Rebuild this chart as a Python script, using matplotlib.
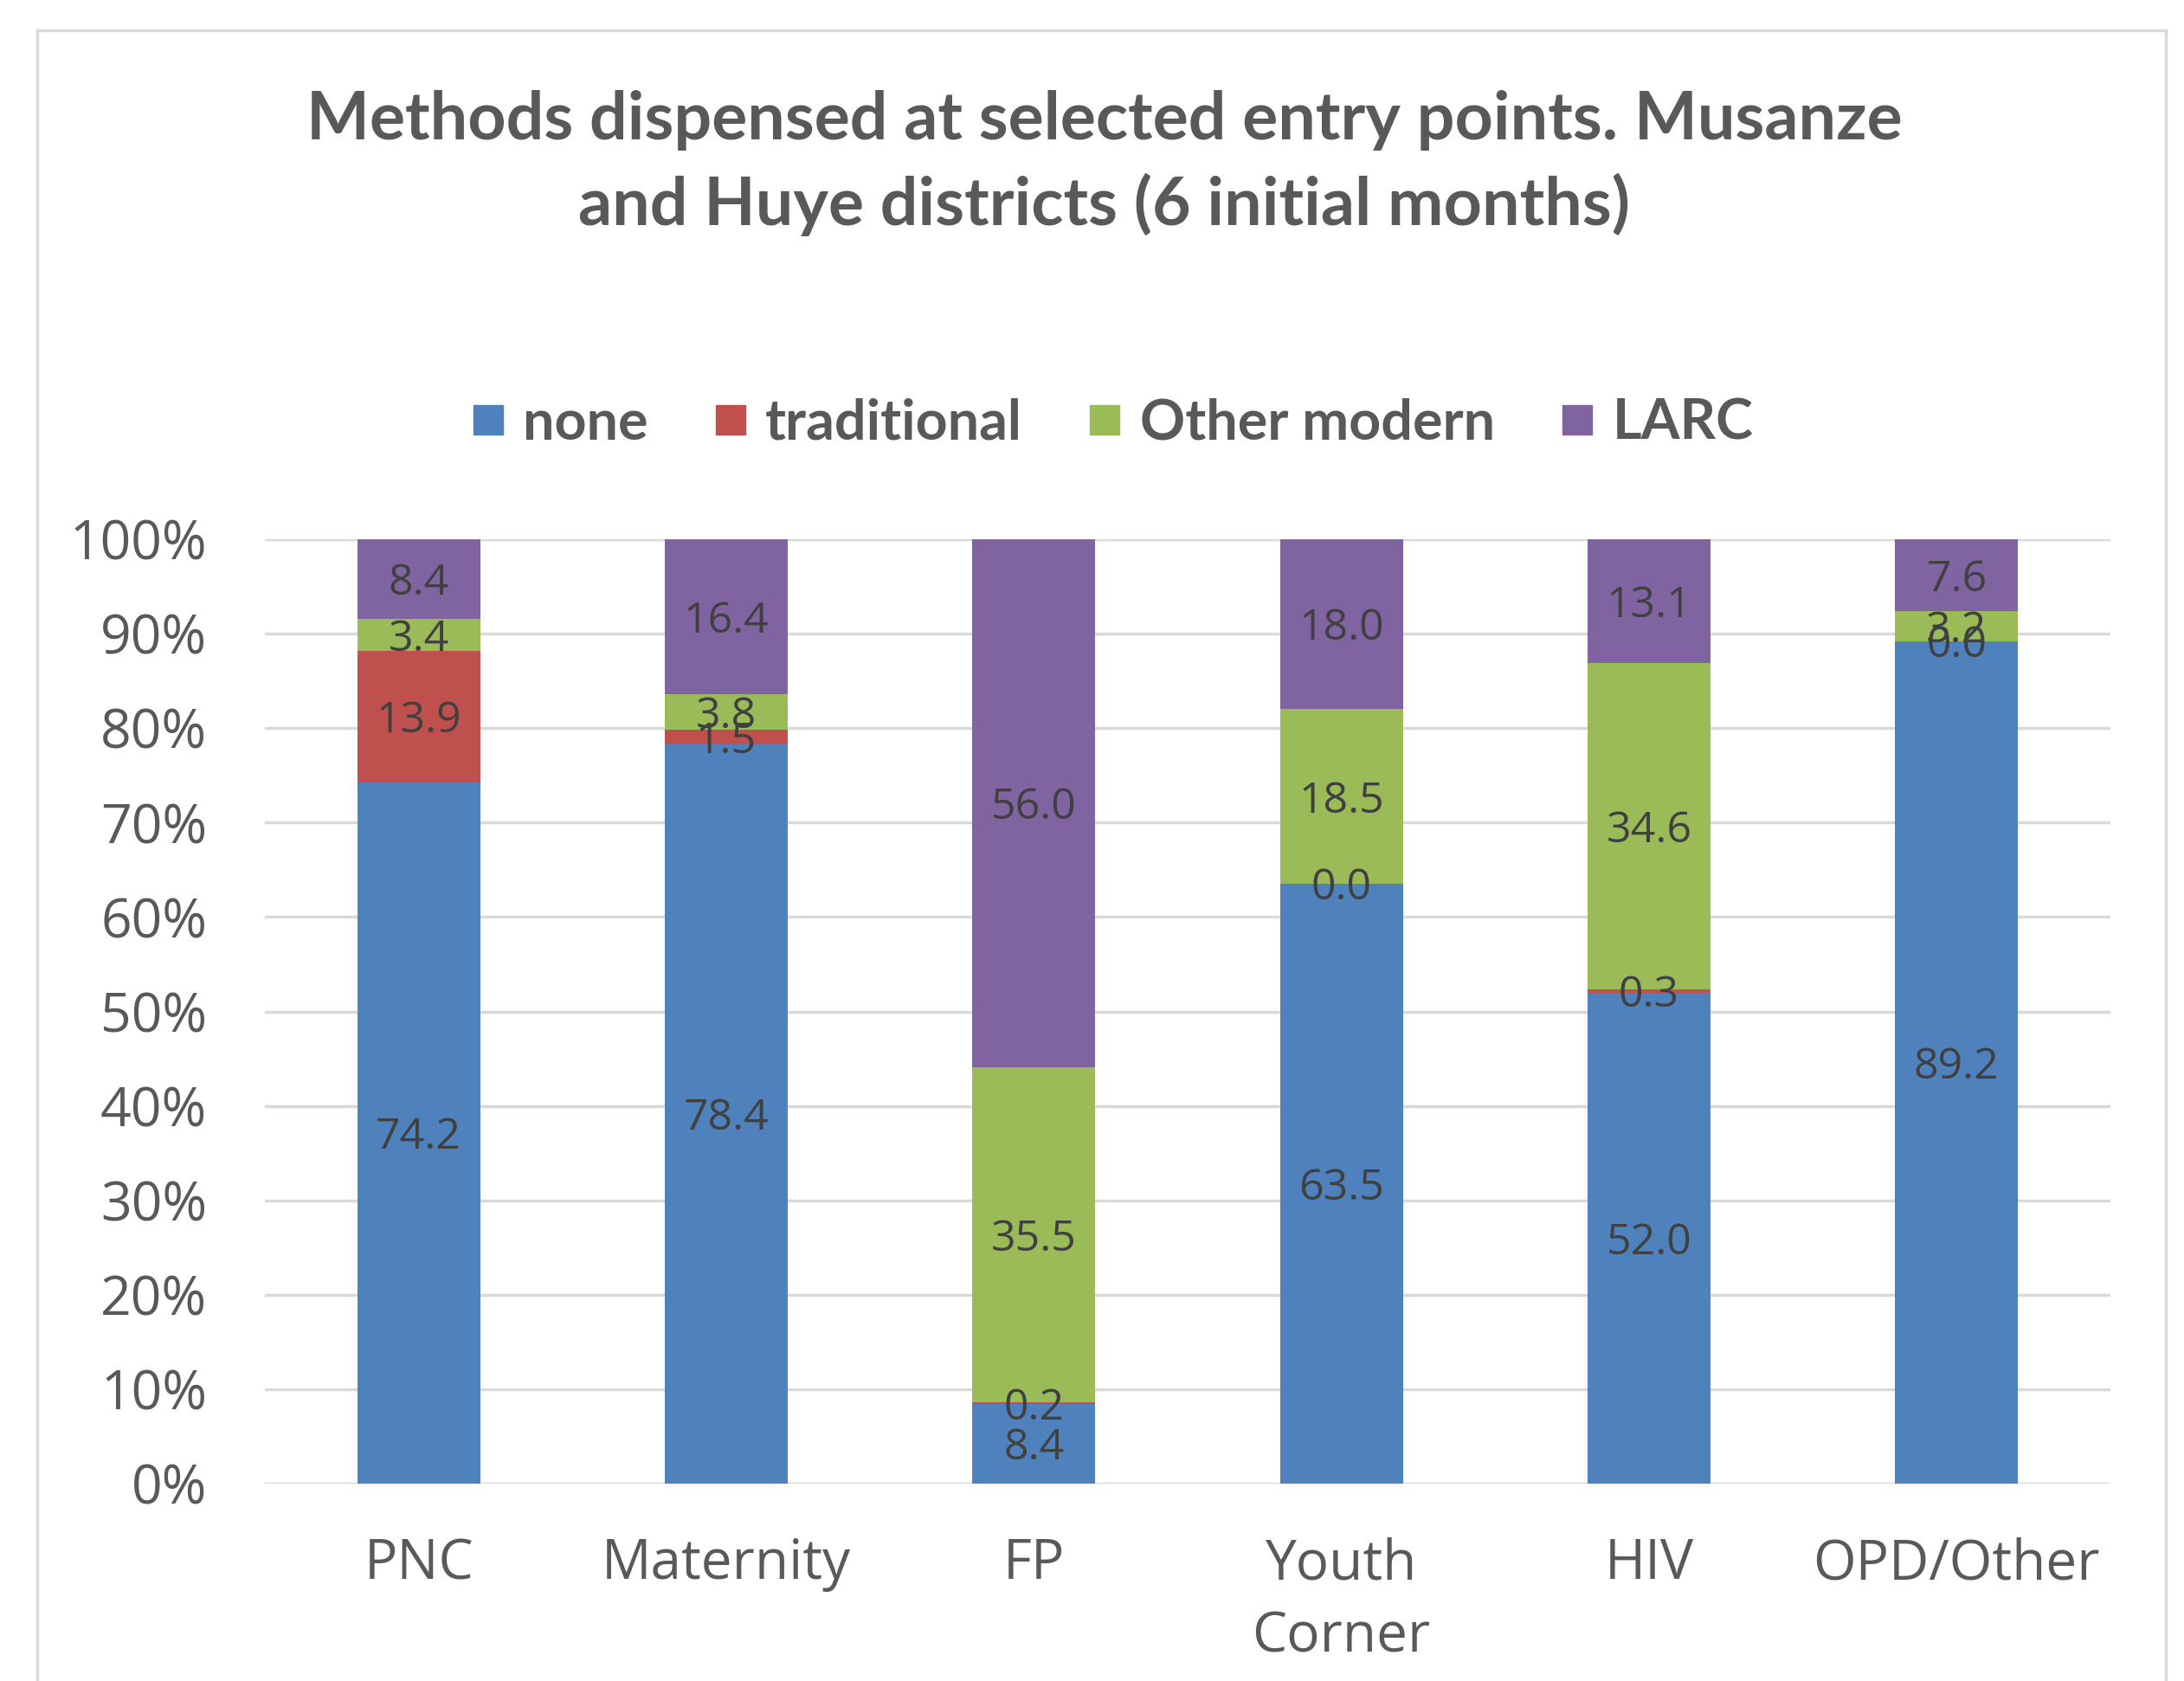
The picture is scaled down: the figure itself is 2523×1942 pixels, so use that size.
import matplotlib
matplotlib.use("Agg")
import matplotlib.pyplot as plt
from matplotlib.lines import Line2D
from matplotlib.patches import Rectangle
import numpy as np

categories = ["PNC", "Maternity", "FP", "Youth\nCorner", "HIV", "OPD/Other"]
series_names = ["none", "traditional", "Other modern", "LARC"]
none_vals = [74.2, 78.4, 8.4, 63.5, 52.0, 89.2]
traditional_vals = [13.9, 1.5, 0.2, 0.0, 0.3, 0.0]
other_modern_vals = [3.4, 3.8, 35.5, 18.5, 34.6, 3.2]
larc_vals = [8.4, 16.4, 56.0, 18.0, 13.1, 7.6]
yticks = [0, 10, 20, 30, 40, 50, 60, 70, 80, 90, 100]
ytick_labels = ["0%", "10%", "20%", "30%", "40%", "50%", "60%", "70%", "80%", "90%", "100%"]
title = "Methods dispensed at selected entry points. Musanze\nand Huye districts (6 initial months)"

colors = ["#4F81BD", "#C0504D", "#9BBB59", "#8064A2"]
W, H = 2523, 1942
fig = plt.figure(figsize=(W / 100, H / 100), dpi=100)
fig.patch.set_facecolor("white")

# outer chart frame
fig.add_artist(Rectangle((43 / W, -0.05), (2502 - 43) / W, 1 - 35 / H + 0.05,
                         transform=fig.transFigure, fill=False,
                         edgecolor="#D9D9D9", linewidth=2.5))

ax = fig.add_axes([306 / W, 228 / H, (2438 - 306) / W, (1319 - 228) / H])
data = np.array([none_vals, traditional_vals, other_modern_vals, larc_vals])
totals = data.sum(axis=0)
pct = data / totals * 100
x = np.arange(len(categories))
bottom = np.zeros(len(categories))
for i, name in enumerate(series_names):
    ax.bar(x, pct[i], 0.4, bottom=bottom, color=colors[i], label=name, zorder=3)
    for j in range(len(categories)):
        yc = bottom[j] + pct[i][j] / 2
        ax.text(x[j], yc - 0.5, f"{data[i][j]:.1f}", ha="center", va="center",
                fontsize=36, color="#404040", family="Open Sans", zorder=4)
    bottom += pct[i]

ax.set_xlim(-0.5, len(categories) - 0.5)
ax.set_ylim(0, 100)
ax.set_yticks(yticks)
ax.set_yticklabels(ytick_labels, family="Open Sans", fontsize=45, color="#595959")
ax.set_xticks(x)
ax.set_xticklabels(categories, family="Open Sans", fontsize=46, color="#595959",
                   linespacing=1.42)
ax.tick_params(axis="both", length=0)
ax.tick_params(axis="y", pad=48)
ax.tick_params(axis="x", pad=44)
ax.grid(axis="y", color="#D9D9D9", linewidth=2.5, zorder=0)
for s in ax.spines.values():
    s.set_visible(False)

fig.text(0.5055, 0.903, title, ha="center", va="center", fontsize=55.5,
         fontweight="bold", family="Lato", color="#595959", linespacing=1.42)

handles = [Line2D([0], [0], marker="s", linestyle="none", markersize=25,
                  markerfacecolor=c, markeredgecolor=c) for c in colors]
fig.legend(handles, series_names, loc="center", bbox_to_anchor=(0.5096, 0.748),
           ncol=4, frameon=False, handlelength=0.55, handletextpad=0.35,
           columnspacing=1.2, prop={"family": "Lato", "weight": "bold", "size": 46.5},
           labelcolor="#595959")

fig.savefig("out.png", dpi=100, facecolor="white")
